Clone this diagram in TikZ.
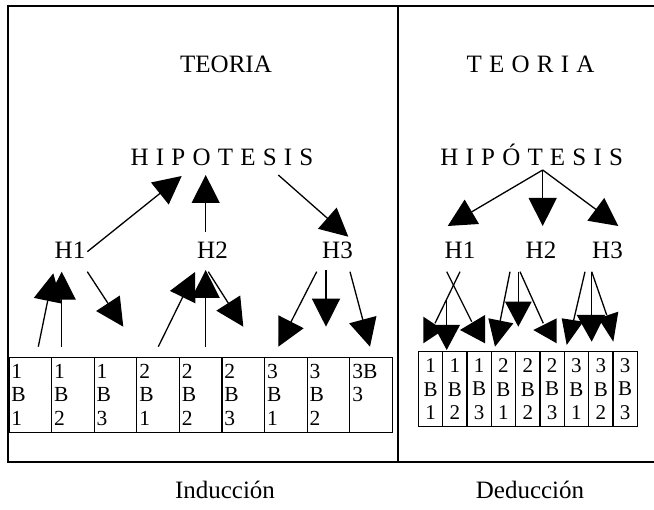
\documentclass[tikz,border=0pt]{standalone}
\usepackage{fontspec}
\setmainfont{Liberation Serif}
\usetikzlibrary{arrows.meta}
\begin{document}
\begin{tikzpicture}[x=1pt,y=-1pt,
  title/.style={font=\fontsize{25}{30}\selectfont, inner sep=0pt, anchor=base},
  caption/.style={font=\fontsize{25}{30}\selectfont, inner sep=0pt, anchor=base},
  cellL/.style={draw, line width=1.3pt, anchor=north west, minimum height=75pt,
    text width=37.6pt, inner xsep=2.5pt, inner ysep=0pt, align=left,
    font=\fontsize{21.5}{23.3}\selectfont},
  cellR/.style={draw, line width=1.3pt, anchor=north west, minimum height=75pt,
    text width=22.3pt, inner xsep=1pt, inner ysep=0pt, align=center,
    font=\fontsize{21}{23.3}\selectfont},
  conn/.style={line width=1.3pt, -{Triangle[length=28pt,width=28pt]}},
  link/.style={line width=1.3pt},
  head/.style={fill=black},
  frame/.style={line width=1.5pt},
  tracked/.style={execute at begin node={\spaceskip=7.2pt\relax}},
]
\useasboundingbox (0,0) rectangle (654,510);

% outer frame and divider
\draw[frame] (700,6) -- (8,6) -- (8,462) -- (700,462);
\draw[frame] (398,6) -- (398,462);

% ---------- Inducción ----------
\node[title] (teoL) at (226,72.5) {TEORIA};
\node[title, tracked] (hipL) at (222,166) {H I P O T E S I S};
\node[title] (h1L) at (70,258.5) {H1};
\node[title] (h2L) at (212.5,258.5) {H2};
\node[title] (h3L) at (337.5,258.5) {H3};

\foreach \i/\t in {1/{1\\B\\1},2/{1\\B\\2},3/{1\\B\\3},4/{2\\B\\1},5/{2\\B\\2},
                   6/{2\\B\\3},7/{3\\B\\1},8/{3\\B\\2},9/{3B\\3\\\mbox{}}}
  \node[cellL] (b\i) at ({8.3+(\i-1)*42.6},356.7) {\t};

\coordinate (pA) at (87.3,251.7);   \coordinate (tA) at (181.7,176);
\coordinate (pB) at (205.7,231.7);  \coordinate (tB) at (205.7,175);
\coordinate (pC) at (278.3,175);    \coordinate (tC) at (348.3,236.7);
\coordinate (p1) at (38.3,346.7);   \coordinate (t1) at (53.3,273.3);
\coordinate (p2) at (61.7,346.7);   \coordinate (t2) at (61.7,271.7);
\coordinate (p3) at (87.3,271.7);   \coordinate (t3) at (123.3,326.7);
\coordinate (p4) at (158.3,346.7);  \coordinate (t4) at (195,272);
\coordinate (p5) at (205.7,346.7);  \coordinate (t5) at (205.7,270);
\coordinate (p6) at (208.3,271.7);  \coordinate (t6) at (243.3,326.7);
\coordinate (p7) at (316.7,271.7);  \coordinate (t7) at (278.3,346.7);
\coordinate (p8) at (326,270);      \coordinate (t8) at (326,326.7);
\coordinate (p9) at (350,271.7);    \coordinate (t9) at (370,346.7);
\foreach \k in {A,B,C,1,2,3,4,5,6,7,8,9}
  \draw[conn] (p\k) -- (t\k);

\node[caption] (ind) at (225,499) {Inducción};

% ---------- Deducción ----------
\node[title, tracked] (teoR) at (530.5,72.5) {T E O R I A};
\node[title, tracked] (hipR) at (531.7,166) {H I P Ó T E S I S};
\node[title] (h1R) at (460,258.5) {H1};
\node[title] (h2R) at (541,258.5) {H2};
\node[title] (h3R) at (607.5,258.5) {H3};

\foreach \i/\t in {1/{1\\B\\1},2/{1\\B\\2},3/{1\\B\\3},4/{2\\B\\1},5/{2\\B\\2},
                   6/{2\\B\\3},7/{3\\B\\1},8/{3\\B\\2},9/{3\\B\\3}}
  \node[cellR] (r\i) at ({417.7+(\i-1)*24.33},351) {\t};

\coordinate (src) at (542.7,170);
\coordinate (q1) at (447.7,226);
\coordinate (q2) at (542.7,226);
\coordinate (q3) at (618.3,226);
\foreach \k in {1,2,3}
  \draw[conn] (src) -- (q\k);

% H1 branches
\draw[link] (460,271.7) -- (435,323.3);
\fill[head] (423.3,316.7) -- (423.3,343.3) -- (443.3,330) -- cycle;
\draw[link] (446.7,271.7) -- (471.7,321.7);
\fill[head] (485,315) -- (485,343.3) -- (460,330) -- cycle;
\draw[link] (446.7,300) -- (446.7,325);
\fill[head] (433.3,325) -- (460,325) -- (446.7,350) -- cycle;

% H2 branches
\draw[link] (510,271.7) -- (500,321.7);
\fill[head] (488.3,318.3) -- (513.3,323.3) -- (495,346.7) -- cycle;
\draw[link] (518.3,271.7) -- (518.3,301.7);
\fill[head] (505,301.7) -- (531.7,301.7) -- (518.3,326.7) -- cycle;
\draw[link] (520,271.7) -- (543.3,323.3);
\fill[head] (533.3,330) -- (556.7,318.3) -- (556.7,343.3) -- cycle;

% H3 branches
\draw[link] (585,271.7) -- (573.3,321.7);
\fill[head] (561.7,318.3) -- (583.3,321.7) -- (566.7,345) -- cycle;
\draw[link] (591.7,271.7) -- (591.7,315);
\fill[head] (576.7,315) -- (605,315) -- (591.7,341.7) -- cycle;
\draw[link] (591.7,271.7) -- (606.7,315);
\fill[head] (598.3,318.3) -- (618.3,311.7) -- (613.3,341.7) -- cycle;

\node[caption] (ded) at (530,499) {Deducción};
\end{tikzpicture}
\end{document}
